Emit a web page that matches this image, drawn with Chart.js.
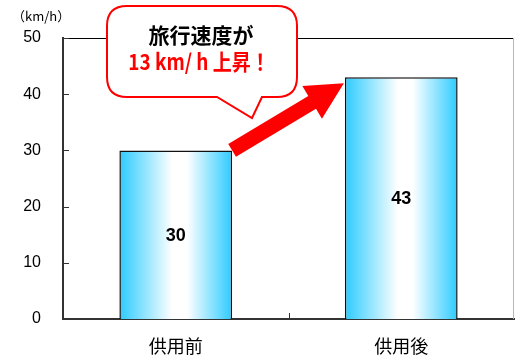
<!DOCTYPE html>
<html>
<head>
<meta charset="utf-8">
<script src="https://cdn.jsdelivr.net/npm/chart.js@4"></script>
<style>
  html, body { margin: 0; padding: 0; background: #fff; }
  #wrap { width: 516px; height: 360px; position: relative; }
</style>
</head>
<body>
<div id="wrap"><canvas id="speedChart"></canvas></div>
<script>
// travel speed before / after opening
const categories = ['供用前', '供用後'];
const speeds = [30, 43];
const yMax = 50;
const yStep = 10;
const unitLabel = '（km/h）';
const calloutTitle = '旅行速度が';
const calloutNote = '13 km/ h 上昇！';

const jpFont = '"Noto Sans CJK JP", "Noto Sans", sans-serif';
const numFont = '"Liberation Sans", Arial, sans-serif';

// horizontal cyan - white - cyan fill for each bar
function barGradient(ctx) {
    const chart = ctx.chart;
    const area = chart.chartArea;
    if (!area || !chart.scales.x) return '#33ccff';
    const cx = chart.scales.x.getPixelForValue(ctx.dataIndex);
    const half = area.width / categories.length * 0.5 / 2;
    const g = chart.ctx.createLinearGradient(cx - half, 0, cx + half, 0);
    g.addColorStop(0, '#2ccbff');
    g.addColorStop(0.47, '#ffffff');
    g.addColorStop(0.6, '#ffffff');
    g.addColorStop(1, '#2ccbff');
    return g;
}

// frame lines, inner tick marks, value labels, arrow and callout
const decorations = {
    id: 'decorations',
    beforeDatasetsDraw(chart) {
        const { ctx, chartArea: a, scales } = chart;
        ctx.save();
        // top and right frame
        ctx.strokeStyle = '#000';
        ctx.lineWidth = 1;
        ctx.beginPath();
        ctx.moveTo(a.left, a.top + 0.5);
        ctx.lineTo(a.right, a.top + 0.5);
        ctx.stroke();
        ctx.strokeStyle = '#b8b8b8';
        ctx.beginPath();
        ctx.moveTo(a.right - 0.5, a.top);
        ctx.lineTo(a.right - 0.5, a.bottom);
        ctx.stroke();
        // tick marks pointing into the plot
        ctx.strokeStyle = '#333';
        scales.y.ticks.forEach(t => {
            const y = Math.round(scales.y.getPixelForValue(t.value)) + 0.5;
            ctx.beginPath();
            ctx.moveTo(a.left, y);
            ctx.lineTo(a.left + 6, y);
            ctx.stroke();
        });
        for (let i = 1; i < categories.length; i++) {
            const x = Math.round((scales.x.getPixelForValue(i - 1) + scales.x.getPixelForValue(i)) / 2) + 0.5;
            ctx.beginPath();
            ctx.moveTo(x, a.bottom);
            ctx.lineTo(x, a.bottom - 6);
            ctx.stroke();
        }
        ctx.restore();
    },
    afterDatasetsDraw(chart) {
        const { ctx } = chart;
        const bars = chart.getDatasetMeta(0).data;
        ctx.save();

        // values in the middle of each bar
        ctx.fillStyle = '#000';
        ctx.font = 'bold 18px ' + numFont;
        ctx.textAlign = 'center';
        ctx.textBaseline = 'middle';
        bars.forEach((bar, i) => {
            ctx.fillText(String(speeds[i]), bar.x, (bar.y + bar.base) / 2 + 1);
        });

        // red arrow from the first bar to the second
        const b1 = bars[0], b2 = bars[1];
        const x0 = b1.x + b1.width / 2, y0 = b1.y;
        const x1 = b2.x - b2.width / 2 - 1, y1 = b2.y + 6;
        const ang = Math.atan2(y1 - y0, x1 - x0);
        const len = Math.hypot(x1 - x0, y1 - y0);
        const headLen = 37, headHalf = 19, shaftHalf = 7.5;
        ctx.translate(x0, y0);
        ctx.rotate(ang);
        ctx.fillStyle = '#ff0000';
        ctx.beginPath();
        ctx.moveTo(0, -shaftHalf);
        ctx.lineTo(len - headLen, -shaftHalf);
        ctx.lineTo(len - headLen, -headHalf);
        ctx.lineTo(len, 0);
        ctx.lineTo(len - headLen, headHalf);
        ctx.lineTo(len - headLen, shaftHalf);
        ctx.lineTo(0, shaftHalf);
        ctx.closePath();
        ctx.fill();
        ctx.setTransform(1, 0, 0, 1, 0, 0);

        // speech bubble
        const L = 107, T = 6, R = 297, B = 97, r = 20;
        ctx.beginPath();
        ctx.moveTo(L + r, T);
        ctx.lineTo(R - r, T);
        ctx.quadraticCurveTo(R, T, R, T + r);
        ctx.lineTo(R, B - r);
        ctx.quadraticCurveTo(R, B, R - r, B);
        ctx.lineTo(262, B);
        ctx.lineTo(252, 118);
        ctx.lineTo(217, B);
        ctx.lineTo(L + r, B);
        ctx.quadraticCurveTo(L, B, L, B - r);
        ctx.lineTo(L, T + r);
        ctx.quadraticCurveTo(L, T, L + r, T);
        ctx.closePath();
        ctx.fillStyle = '#fff';
        ctx.fill();
        ctx.strokeStyle = '#ff0000';
        ctx.lineWidth = 2;
        ctx.stroke();

        ctx.textAlign = 'center';
        ctx.textBaseline = 'middle';
        ctx.fillStyle = '#000';
        ctx.font = 'bold 21px ' + jpFont;
        ctx.fillText(calloutTitle, 201, 35);
        // second line: slightly condensed, taller glyphs
        ctx.fillStyle = '#ff0000';
        ctx.font = 'bold 19px ' + jpFont;
        ctx.translate(199, 62);
        ctx.scale(1, 1.15);
        ctx.fillText(calloutNote, 0, 0);
        ctx.setTransform(1, 0, 0, 1, 0, 0);

        // unit label
        ctx.fillStyle = '#000';
        ctx.font = '13px ' + jpFont;
        ctx.textAlign = 'left';
        ctx.fillText(unitLabel, 12, 16);
        ctx.restore();
    }
};

const chart = new Chart(document.getElementById('speedChart'), {
    type: 'bar',
    data: {
        labels: categories,
        datasets: [{
            data: speeds,
            backgroundColor: barGradient,
            borderColor: '#111',
            borderWidth: 1.5,
            barPercentage: 1,
            categoryPercentage: 0.5
        }]
    },
    options: {
        responsive: true,
        maintainAspectRatio: false,
        animation: false,
        layout: { padding: { top: 38, right: 2, left: 0, bottom: 0 } },
        plugins: {
            legend: { display: false },
            tooltip: { enabled: false }
        },
        scales: {
            x: {
                grid: { display: false, drawTicks: false },
                border: { display: true, color: '#333', width: 2 },
                ticks: {
                    color: '#000',
                    padding: 16,
                    font: { family: jpFont, size: 18 }
                },
                afterFit(scale) { scale.height = 41; }
            },
            y: {
                min: 0,
                max: yMax,
                grid: { display: false, drawTicks: false },
                border: { display: true, color: '#333', width: 2 },
                ticks: {
                    stepSize: yStep,
                    color: '#000',
                    padding: 22,
                    font: { family: numFont, size: 16 }
                },
                afterFit(scale) { scale.width = 63; }
            }
        }
    },
    plugins: [decorations]
});
</script>
</body>
</html>
